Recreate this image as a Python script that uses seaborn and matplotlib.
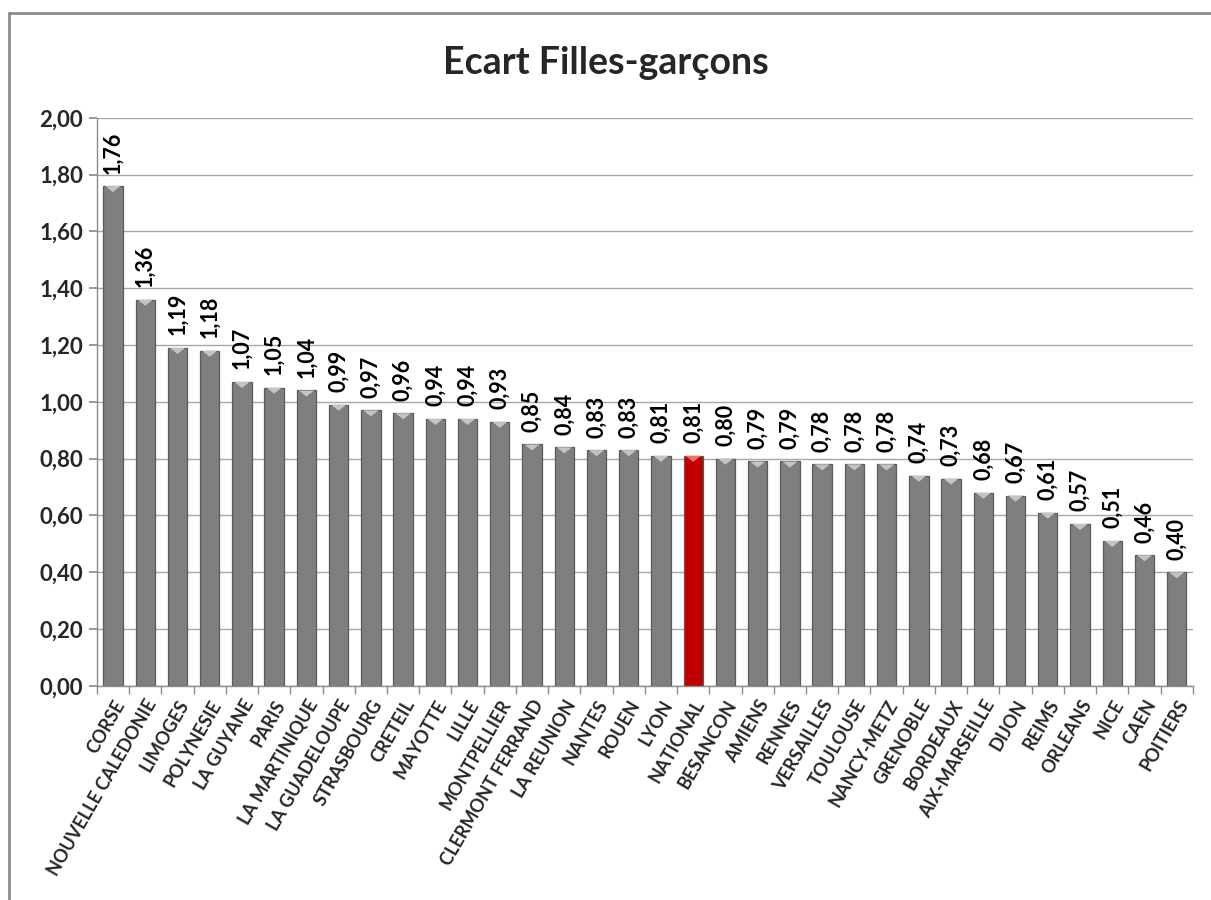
import matplotlib
matplotlib.use("Agg")
import matplotlib.pyplot as plt
from matplotlib.lines import Line2D
from matplotlib.path import Path
import seaborn as sns
import pandas as pd

categories = ["CORSE", "NOUVELLE CALEDONIE", "LIMOGES", "POLYNESIE", "LA GUYANE", "PARIS",
              "LA MARTINIQUE", "LA GUADELOUPE", "STRASBOURG", "CRETEIL", "MAYOTTE", "LILLE",
              "MONTPELLIER", "CLERMONT FERRAND", "LA REUNION", "NANTES", "ROUEN", "LYON",
              "NATIONAL", "BESANCON", "AMIENS", "RENNES", "VERSAILLES", "TOULOUSE",
              "NANCY-METZ", "GRENOBLE", "BORDEAUX", "AIX-MARSEILLE", "DIJON", "REIMS",
              "ORLEANS", "NICE", "CAEN", "POITIERS"]
values = [1.76, 1.36, 1.19, 1.18, 1.07, 1.05, 1.04, 0.99, 0.97, 0.96, 0.94, 0.94,
          0.93, 0.85, 0.84, 0.83, 0.83, 0.81, 0.81, 0.80, 0.79, 0.79, 0.78, 0.78,
          0.78, 0.74, 0.73, 0.68, 0.67, 0.61, 0.57, 0.51, 0.46, 0.40]
highlight = "NATIONAL"
yticks = [0.0, 0.2, 0.4, 0.6, 0.8, 1.0, 1.2, 1.4, 1.6, 1.8, 2.0]

sns.set_theme(style="white")
plt.rcParams['font.family'] = ['Lato', 'DejaVu Sans']

df = pd.DataFrame({"cat": categories, "val": values})
palette = {c: ("#C00000" if c == highlight else "#7F7F7F") for c in categories}

fig = plt.figure(figsize=(12.11, 9.0), dpi=100)
ax = fig.add_axes([0.080, 0.238, 0.905, 0.631])

sns.barplot(data=df, x="cat", y="val", hue="cat", palette=palette, legend=False,
            width=0.6, ax=ax, edgecolor="#5A5A5A", linewidth=0.9, saturation=1)

# light bevel triangles at the top of each bar (flat side on the bar top)
bevel = Path([(-1, 0), (1, 0), (0, -0.8), (-1, 0)],
             [Path.MOVETO, Path.LINETO, Path.LINETO, Path.CLOSEPOLY])
tri_colors = ["#F07070" if c == highlight else "#C4C4C4" for c in categories]
ax.scatter(range(len(categories)), values, marker=bevel, s=120, c=tri_colors,
           linewidths=0, zorder=3)

ax.set_ylim(0, 2.0)
ax.set_xlim(-0.5, len(categories) - 0.5)
ax.set_yticks(yticks)
ax.set_yticklabels([f"{t:.2f}".replace(".", ",") for t in yticks],
                   fontsize=16, fontweight="bold")
ax.yaxis.grid(True, color="#A6A6A6", linewidth=1)
ax.set_axisbelow(True)
ax.set_xlabel("")
ax.set_ylabel("")

ax.set_xticks(range(len(categories)))
ax.set_xticklabels(categories, rotation=60, ha="right", rotation_mode="anchor",
                   fontsize=13, fontweight="bold")
ax.tick_params(axis="x", length=0, pad=8)
ax.tick_params(axis="y", length=6, color="#8C8C8C", left=True, pad=4)
ax.set_xticks([i - 0.5 for i in range(len(categories) + 1)], minor=True)
ax.tick_params(axis="x", which="minor", length=6, color="#8C8C8C", bottom=True)

for s in ["top", "right"]:
    ax.spines[s].set_visible(False)
for s in ["left", "bottom"]:
    ax.spines[s].set_color("#8C8C8C")
    ax.spines[s].set_linewidth(1)

for i, v in enumerate(values):
    ax.annotate(f"{v:.2f}".replace(".", ","), (i, v), xytext=(0, 9),
                textcoords="offset points", rotation=90, ha="center", va="bottom",
                fontsize=15.5, fontweight="bold", color="black")

fig.text(0.5, 0.930, "Ecart Filles-garçons", ha="center", va="center",
         fontsize=27, fontweight="bold")

# chart frame (top and left edges visible)
fig.add_artist(Line2D([9 / 1211, 1.0], [1 - 13 / 900, 1 - 13 / 900],
                      transform=fig.transFigure, color="#8C8C8C", linewidth=2))
fig.add_artist(Line2D([9 / 1211, 9 / 1211], [0, 1 - 13 / 900],
                      transform=fig.transFigure, color="#8C8C8C", linewidth=2))

fig.savefig("out.png", dpi=100)
